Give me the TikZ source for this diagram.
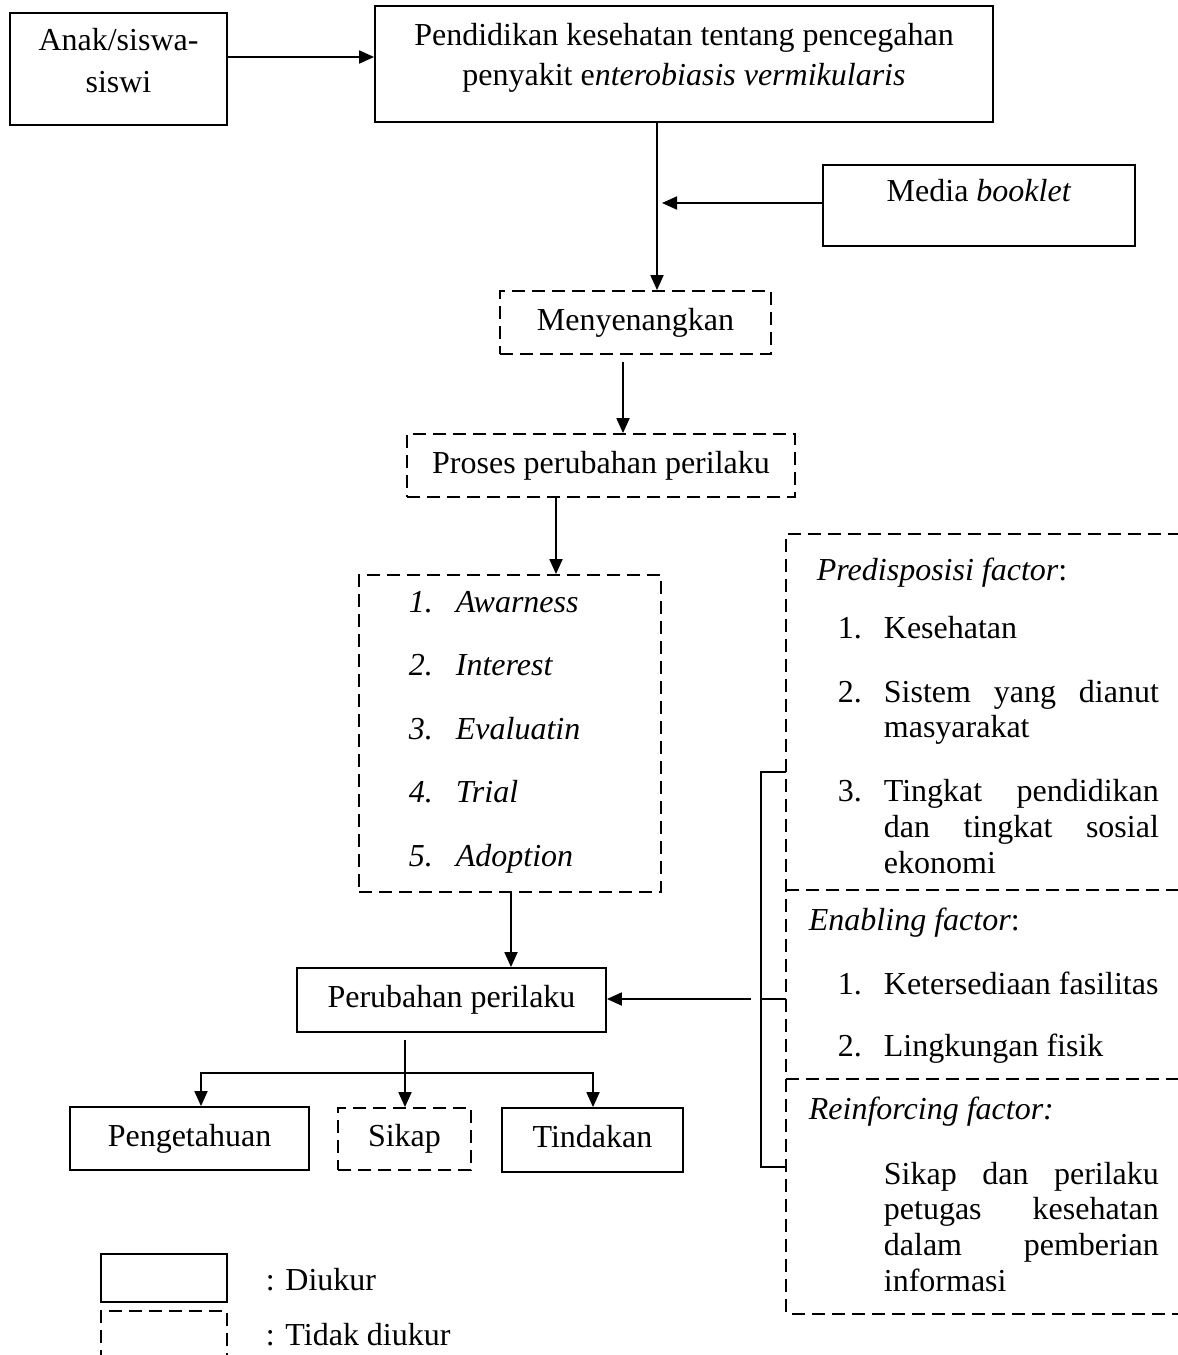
\documentclass[tikz,border=0pt]{standalone}
\usepackage{fontspec}
\setmainfont{Liberation Serif}
\usetikzlibrary{arrows.meta}
\newcommand\jst[1]{\hbox to 275pt{#1}}
\begin{document}
\begin{tikzpicture}[x=1pt,y=-1pt,line width=1.8pt,
  every node/.style={font=\fontsize{32}{38}\selectfont, inner sep=0pt, text height=22pt, text depth=7pt},
  sbox/.style={draw, rectangle},
  dbox/.style={draw, rectangle, dash pattern=on 13pt off 7pt},
  dline/.style={dash pattern=on 13pt off 7pt},
  arr/.style={-{Triangle[length=15pt,width=13pt]}},
  txt/.style={anchor=west}]
\useasboundingbox (0,0) rectangle (1178,1355);
\begin{scope}
\clip (0,0) rectangle (1178,1355);
% top row
\node[sbox, minimum width=217pt, minimum height=112pt] (anak) at (118.5,69) {};
\node (anakA) at (118.5,43) {Anak/siswa-};
\node (anakB) at (118.5,85) {siswi};
\node[sbox, minimum width=618pt, minimum height=116pt] (pend) at (684,64) {};
\node (pendA) at (684,38) {Pendidikan kesehatan tentang pencegahan};
\node (pendB) at (684,78) {penyakit e\textit{nterobiasis vermikularis}};
\node[sbox, minimum width=312pt, minimum height=81pt] (media) at (979,205.5) {};
\node (mediaT) at (979,194) {Media \textit{booklet}};
% chain
\node[dbox, minimum width=271pt, minimum height=63pt] (meny) at (635.5,322.5) {Menyenangkan};
\node[dbox, minimum width=388pt, minimum height=63pt] (proses) at (601,465.5) {Proses perubahan perilaku};
\node[dbox, minimum width=302pt, minimum height=317pt] (list) at (510,733.5) {};
\node[txt] (n1) at (408,605) {\textit{1.}};
\node[txt] (i1) at (455,605) {\textit{Awarness}};
\node[txt] (n2) at (408,668) {\textit{2.}};
\node[txt] (i2) at (455,668) {\textit{Interest}};
\node[txt] (n3) at (408,732) {\textit{3.}};
\node[txt] (i3) at (455,732) {\textit{Evaluatin}};
\node[txt] (n4) at (408,795) {\textit{4.}};
\node[txt] (i4) at (455,795) {\textit{Trial}};
\node[txt] (n5) at (408,859) {\textit{5.}};
\node[txt] (i5) at (455,859) {\textit{Adoption}};
\node[sbox, minimum width=309pt, minimum height=64pt] (perub) at (451.5,1000) {Perubahan perilaku};
\node[sbox, minimum width=239pt, minimum height=63pt] (peng) at (189.5,1138.5) {Pengetahuan};
\node[dbox, minimum width=133pt, minimum height=62pt] (sikap) at (404.5,1139) {Sikap};
\node[sbox, minimum width=181pt, minimum height=64pt] (tind) at (592.5,1140) {Tindakan};
% right factor boxes
\node[minimum width=413pt, minimum height=356pt] (pre) at (993.5,713) {};
\node[minimum width=413pt, minimum height=189pt] (ena) at (993.5,985.5) {};
\node[minimum width=413pt, minimum height=233pt] (rei) at (993.5,1196.5) {};
\draw[dline] (pre.north east) -- (pre.north west) -- (rei.south west) -- (rei.south east);
\draw[dline] (ena.north west) -- (ena.north east);
\draw[dline] (rei.north west) -- (rei.north east);
\node[txt] (preT) at (816,573) {\textit{Predisposisi factor}:};
\node[txt] (p1n) at (837,631) {1.};
\node[txt] (p1) at (883,631) {Kesehatan};
\node[txt] (p2n) at (837,695) {2.};
\node[txt] (p2a) at (883,695) {\jst{Sistem\hfill yang\hfill dianut}};
\node[txt] (p2b) at (883,730) {masyarakat};
\node[txt] (p3n) at (837,794) {3.};
\node[txt] (p3a) at (883,794) {\jst{Tingkat\hfill pendidikan}};
\node[txt] (p3b) at (883,830) {\jst{dan\hfill tingkat\hfill sosial}};
\node[txt] (p3c) at (883,866) {ekonomi};
\node[txt] (enaT) at (808,923) {\textit{Enabling factor}:};
\node[txt] (e1n) at (837,987) {1.};
\node[txt] (e1) at (883,987) {Ketersediaan fasilitas};
\node[txt] (e2n) at (837,1049) {2.};
\node[txt] (e2) at (883,1049) {Lingkungan fisik};
\node[txt] (reiT) at (808,1112) {\textit{Reinforcing factor:}};
\node[txt] (r1) at (883,1177) {\jst{Sikap\hfill dan\hfill perilaku}};
\node[txt] (r2) at (883,1212) {\jst{petugas\hfill kesehatan}};
\node[txt] (r3) at (883,1248) {\jst{dalam\hfill pemberian}};
\node[txt] (r4) at (883,1284) {informasi};
% legend
\node[sbox, minimum width=126pt, minimum height=48pt] (legS) at (164,1278) {};
\node[dbox, minimum width=126pt, minimum height=69pt] (legD) at (164,1345.5) {};
\node[txt] (legSt) at (265,1283) {: Diukur};
\node[txt] (legDt) at (265,1338) {: Tidak diukur};
% connectors
\coordinate (y57) at (0,57);
\draw[arr] (anak.east |- y57) -- (pend.west |- y57);
\coordinate (x657) at (657,0);
\draw[arr] (pend.south -| x657) -- (meny.north -| x657);
\coordinate (mtip) at (662,203);
\draw[arr] (media.west |- mtip) -- (mtip);
\coordinate (x623) at (623,0);
\draw[arr, shorten <=7pt] (meny.south -| x623) -- (proses.north -| x623);
\coordinate (x556) at (556,0);
\draw[arr] (proses.south -| x556) -- (list.north -| x556);
\coordinate (x511) at (511,0);
\draw[arr] (list.south -| x511) -- (perub.north -| x511);
\coordinate (x405) at (405,0);
\draw[arr, shorten <=7pt] (perub.south -| x405) -- (sikap.north -| x405);
\coordinate (hjL) at (201,1073);
\coordinate (hjR) at (593,1073);
\draw[arr] (x405 |- hjL) -- (hjL) -- (peng.north -| hjL);
\draw[arr] (x405 |- hjL) -- (hjR) -- (tind.north -| hjR);
\coordinate (b1) at (761,772);
\coordinate (b2) at (761,999);
\coordinate (b3) at (761,1167);
\coordinate (atail) at (751,999);
\draw (pre.west |- b1) -- (b1) -- (b3) -- (rei.west |- b3);
\draw (b2) -- (ena.west |- b2);
\draw[arr] (atail) -- (perub.east |- atail);
\end{scope}
\end{tikzpicture}
\end{document}
